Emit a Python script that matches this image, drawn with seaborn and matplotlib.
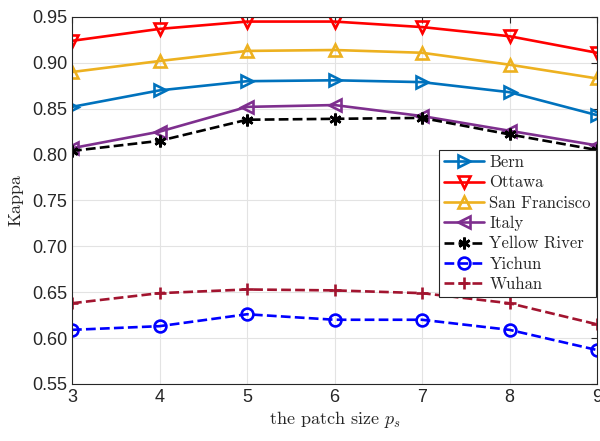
import matplotlib
matplotlib.use("Agg")
import matplotlib.pyplot as plt
import seaborn as sns
import pandas as pd

patch = [3, 4, 5, 6, 7, 8, 9]
bern = [0.852, 0.870, 0.880, 0.881, 0.879, 0.868, 0.843]
ottawa = [0.924, 0.937, 0.945, 0.945, 0.939, 0.929, 0.911]
sanfran = [0.890, 0.902, 0.913, 0.914, 0.911, 0.898, 0.883]
italy = [0.807, 0.825, 0.852, 0.854, 0.842, 0.826, 0.810]
yellow = [0.804, 0.815, 0.838, 0.839, 0.840, 0.822, 0.805]
yichun = [0.609, 0.613, 0.626, 0.620, 0.620, 0.609, 0.587]
wuhan = [0.638, 0.649, 0.653, 0.652, 0.649, 0.638, 0.615]
yticks = [0.55, 0.60, 0.65, 0.70, 0.75, 0.80, 0.85, 0.90, 0.95]

series = [
    ("Bern", bern, "#0072BD", ">", "-"),
    ("Ottawa", ottawa, "#FF0000", "v", "-"),
    ("San Francisco", sanfran, "#EDB120", "^", "-"),
    ("Italy", italy, "#7E2F8E", "<", "-"),
    ("Yellow River", yellow, "#000000", (6, 2, 0), "--"),
    ("Yichun", yichun, "#0000FF", "o", "--"),
    ("Wuhan", wuhan, "#A2142F", "+", "--"),
]

sns.set_style("white")
plt.rcParams["mathtext.fontset"] = "cm"
plt.rcParams["font.family"] = ["Liberation Sans", "DejaVu Sans"]

fig = plt.figure(figsize=(6, 4.41), dpi=100)
ax = fig.add_axes([0.12, 0.1293, 0.875, 0.8322])

for name, vals, col, mk, ls in series:
    df = pd.DataFrame({"x": patch, "y": vals})
    filled = mk in ("+", (6, 2, 0))
    sns.lineplot(data=df, x="x", y="y", ax=ax, color=col, linestyle=ls,
                 linewidth=1.9, marker=mk, markersize=8.5,
                 markerfacecolor=col if filled else "none",
                 markeredgecolor=col, markeredgewidth=1.9, label=name)

ax.set_xlim(3, 9)
ax.set_ylim(0.55, 0.95)
ax.set_xticks(patch)
ax.set_yticks(yticks)
ax.set_yticklabels([f"{v:.2f}" for v in yticks])
ax.tick_params(direction="in", labelsize=13, length=4, colors="#262626", top=True, right=True)
ax.grid(True, color="#e3e3e3", linewidth=0.8)
for s in ax.spines.values():
    s.set_color("#262626")
    s.set_linewidth(0.8)
ax.set_xlabel("the patch size $p_s$", fontsize=13, family="cmr10", labelpad=2)
ax.set_ylabel("Kappa", fontsize=13, family="cmr10", labelpad=6)

leg = ax.legend(loc="upper right", bbox_to_anchor=(0.998, 0.638), prop={"family": "cmr10", "size": 12},
                frameon=True, fancybox=False, edgecolor="#262626", framealpha=1,
                handlelength=2.4, handletextpad=0.3, borderpad=0.3, labelspacing=0.3,
                borderaxespad=0.0)
leg.get_frame().set_linewidth(0.8)

fig.savefig("out.png", dpi=100)
